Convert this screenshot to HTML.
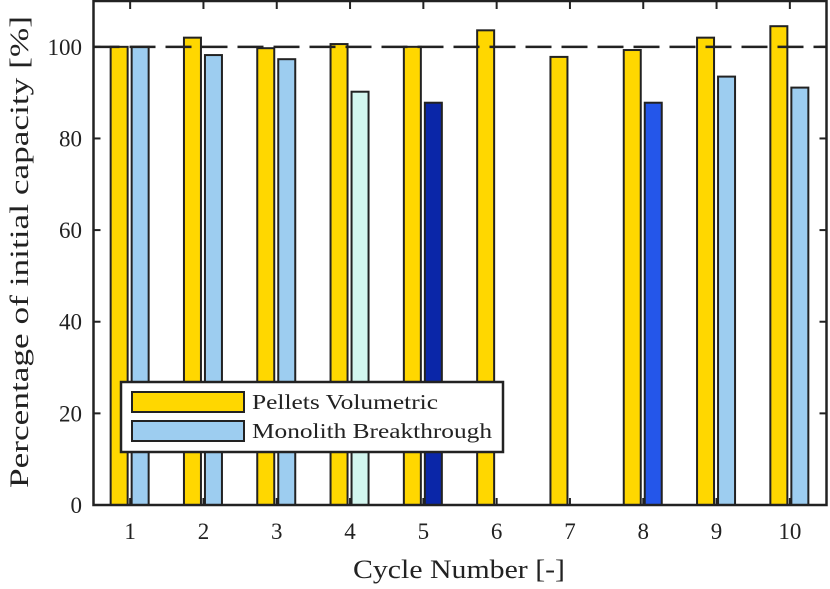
<!DOCTYPE html>
<html><head><meta charset="utf-8"><style>
body{margin:0;background:#fff;}
svg text{font-family:"Liberation Serif",serif;fill:#222;}
</style></head><body>
<svg id="chart" width="830" height="584" viewBox="0 0 830 584">
<g id="bars"></g>
<line id="ref" stroke="#222" stroke-width="2.5" stroke-dasharray="26,10"/>
<rect x="93.5" y="1" width="733" height="504" fill="none" stroke="#222" stroke-width="2.5"/>
<g id="ticks"></g>
<text x="459" y="578" font-size="26" text-anchor="middle" textLength="212" lengthAdjust="spacingAndGlyphs">Cycle Number [-]</text>
<text transform="translate(28,252) rotate(-90)" font-size="26" text-anchor="middle" textLength="472" lengthAdjust="spacingAndGlyphs">Percentage of initial capacity [%]</text>
<g>
<rect x="121" y="382" width="382" height="70" fill="#fff" stroke="#222" stroke-width="2.5"/>
<rect x="132" y="392" width="112" height="20" fill="#ffd700" stroke="#222" stroke-width="2"/>
<text x="252" y="409" font-size="21" textLength="186" lengthAdjust="spacingAndGlyphs">Pellets Volumetric</text>
<rect x="132" y="421" width="112" height="20" fill="#9dcdf0" stroke="#222" stroke-width="2"/>
<text x="252" y="438" font-size="21" textLength="240" lengthAdjust="spacingAndGlyphs">Monolith Breakthrough</text>
</g>
</svg>
<script>
const categories = [1,2,3,4,5,6,7,8,9,10];
const pellets = [100, 102, 99.7, 100.6, 100, 103.6, 97.8, 99.3, 102, 104.5];
const monolith = [100, 98.2, 97.3, 90.2, 87.8, null, null, 87.8, 93.5, 91.1];
const monolithColors = ['#9dcdf0','#9dcdf0','#9dcdf0','#d3f6ef','#0a26a8','#9dcdf0','#9dcdf0','#2456ea','#9dcdf0','#9dcdf0'];
const yTicks = [0,20,40,60,80,100];
const NS='http://www.w3.org/2000/svg';
const x0=93.5, x1=826.5, yB=505, yT=1;
const xs = v => x0 + (v-0.5)/10*(x1-x0);
const ys = v => yB - v/110*(yB-yT);
const bars=document.getElementById('bars'), ticks=document.getElementById('ticks');
function mk(tag, attrs, parent){const e=document.createElementNS(NS,tag);for(const k in attrs)e.setAttribute(k,attrs[k]);parent.appendChild(e);return e;}
categories.forEach((c,i)=>{
  const cx=xs(c), w=17;
  const r=mk('rect',{x:cx-19.5,y:ys(pellets[i]),width:w,height:yB-ys(pellets[i]),fill:'#ffd700',stroke:'#222','stroke-width':2},bars);
  
  
  if(monolith[i]!=null){
    const b=mk('rect',{x:cx+1.5,y:ys(monolith[i]),width:w,height:yB-ys(monolith[i]),fill:monolithColors[i],stroke:'#222','stroke-width':2},bars);
    
    
  }
  const t=mk('line',{x1:cx,x2:cx,y1:yB,y2:yB-7,stroke:'#222','stroke-width':2},ticks);
  
  
  const t2=mk('line',{x1:cx,x2:cx,y1:yT,y2:yT+8,stroke:'#222','stroke-width':2},ticks);
  
  
  const l=mk('text',{x:cx,y:539,'font-size':23,'text-anchor':'middle'},ticks);
  l.textContent=c;
  
  
});
yTicks.forEach(v=>{
  const y=ys(v);
  const t=mk('line',{x1:x0,x2:x0+7,y1:y,y2:y,stroke:'#222','stroke-width':2},ticks);
  
  
  const t2=mk('line',{x1:x1-7,x2:x1,y1:y,y2:y,stroke:'#222','stroke-width':2},ticks);
  
  
  const l=mk('text',{x:82,y:y+8,'font-size':23,'text-anchor':'end'},ticks);
  l.textContent=v;
  
  
});
const ref=document.getElementById('ref');
ref.setAttribute('x1',x0);ref.setAttribute('x2',x1);ref.setAttribute('y1',ys(100));ref.setAttribute('y2',ys(100));
</script>
</body></html>
